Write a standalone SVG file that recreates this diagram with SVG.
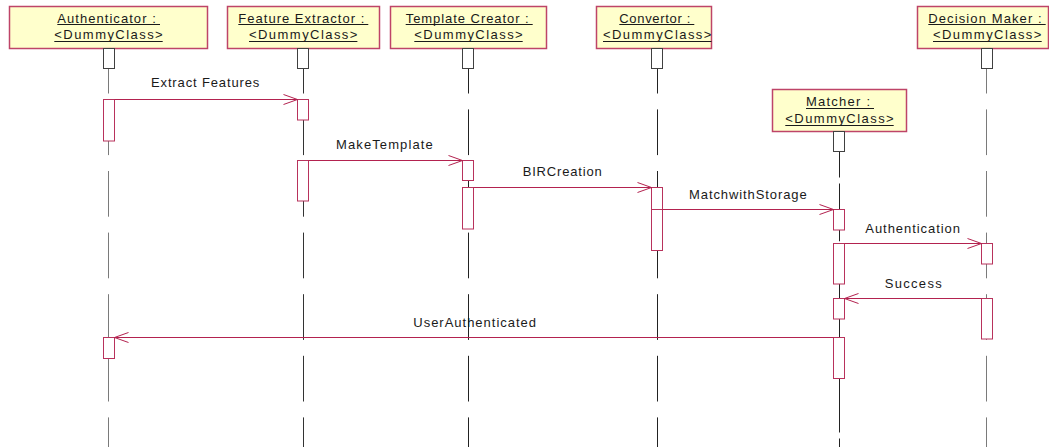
<svg xmlns="http://www.w3.org/2000/svg" width="1049" height="447" viewBox="0 0 1049 447">
<style>
  text { font-family: "Liberation Sans", Arial, sans-serif; font-size: 13px; fill: #1a1a1a; }
  .hdr { fill: #FFFFCC; stroke: #BE4468; stroke-width: 1.5; }
  .ul { stroke: #1a1a1a; stroke-width: 1; }
  .head { fill: #ffffff; stroke: #404040; stroke-width: 1; }
  .life { stroke-width: 1; fill: none; stroke-dasharray: 45.7 15.9; stroke-dashoffset: 20.7; }
  .act { fill: #ffffff; stroke: #B8325C; stroke-width: 1; }
  .msg { fill: none; stroke: #B3224F; stroke-width: 1; marker-end: url(#open); }
</style>
<defs>
  <marker id="open" markerUnits="userSpaceOnUse" markerWidth="16" markerHeight="12" refX="14" refY="5" orient="auto" overflow="visible">
    <path d="M0,0 L14,5 L0,10" fill="none" stroke="#B3224F" stroke-width="1"/>
  </marker>
</defs>
<rect width="1049" height="447" fill="#ffffff"/>

<g id="authenticator">
  <rect class="hdr" x="9.5" y="6.5" width="198" height="42"/>
  <text x="57.3" y="22.5" textLength="98.5" lengthAdjust="spacing">Authenticator :</text>
  <text x="54.3" y="39.3" textLength="108.4" lengthAdjust="spacing">&lt;DummyClass&gt;</text>
  <line class="ul" x1="57.3" y1="24.5" x2="160" y2="24.5"/>
  <line class="ul" x1="54.3" y1="41.5" x2="162.7" y2="41.5"/>
  <line class="life" x1="108.5" y1="68.5" x2="108.5" y2="447" stroke="#7a7a7a"/>
  <rect class="head" x="103.5" y="48.5" width="11" height="20"/>
  <rect class="act" x="103.5" y="99.5" width="11" height="41.5"/>
  <rect class="act" x="103.5" y="337.5" width="11" height="21"/>
</g>

<g id="feature-extractor">
  <rect class="hdr" x="227.5" y="6.5" width="152" height="42"/>
  <text x="238.3" y="22.5" textLength="126" lengthAdjust="spacing">Feature Extractor :</text>
  <text x="249" y="39.3" textLength="108.4" lengthAdjust="spacing">&lt;DummyClass&gt;</text>
  <line class="ul" x1="238.3" y1="24.5" x2="368.3" y2="24.5"/>
  <line class="ul" x1="249" y1="41.5" x2="357.4" y2="41.5"/>
  <line class="life" x1="303.5" y1="68.5" x2="303.5" y2="447" stroke="#333333"/>
  <rect class="head" x="297.5" y="48.5" width="11" height="20"/>
  <rect class="act" x="297.5" y="99.5" width="11" height="20.5"/>
  <rect class="act" x="297.5" y="160.5" width="11" height="40.5"/>
</g>

<g id="template-creator">
  <rect class="hdr" x="390.5" y="6.5" width="156" height="42"/>
  <text x="405.7" y="22.5" textLength="123" lengthAdjust="spacing">Template Creator :</text>
  <text x="414.3" y="39.3" textLength="108.4" lengthAdjust="spacing">&lt;DummyClass&gt;</text>
  <line class="ul" x1="405.7" y1="24.5" x2="532.7" y2="24.5"/>
  <line class="ul" x1="414.3" y1="41.5" x2="522.7" y2="41.5"/>
  <line class="life" x1="468.5" y1="68.5" x2="468.5" y2="447" stroke="#222222"/>
  <rect class="head" x="462.5" y="48.5" width="11" height="20"/>
  <rect class="act" x="462.5" y="160.5" width="11" height="20"/>
  <rect class="act" x="462.5" y="187.5" width="11" height="41.5"/>
</g>

<g id="convertor">
  <rect class="hdr" x="596.5" y="6.5" width="115" height="42"/>
  <text x="619.3" y="22.5" textLength="71" lengthAdjust="spacing">Convertor :</text>
  <text x="603" y="39.3" textLength="108.4" lengthAdjust="spacing">&lt;DummyClass&gt;</text>
  <line class="ul" x1="619.3" y1="24.5" x2="694.3" y2="24.5"/>
  <line class="ul" x1="603" y1="41.5" x2="711.5" y2="41.5"/>
  <line class="life" x1="657.5" y1="68.5" x2="657.5" y2="447" stroke="#222222"/>
  <rect class="head" x="651.5" y="48.5" width="11" height="20"/>
  <rect class="act" x="651.5" y="187.5" width="11" height="22"/>
  <rect class="act" x="651.5" y="209.5" width="11" height="41"/>
</g>

<g id="matcher">
  <rect class="hdr" x="772.5" y="89.5" width="134" height="42"/>
  <text x="806" y="106.2" textLength="64" lengthAdjust="spacing">Matcher :</text>
  <text x="785.3" y="122.8" textLength="108.4" lengthAdjust="spacing">&lt;DummyClass&gt;</text>
  <line class="ul" x1="806" y1="108.5" x2="874" y2="108.5"/>
  <line class="ul" x1="785.3" y1="125.5" x2="893.7" y2="125.5"/>
  <line x1="839.5" y1="151.5" x2="839.5" y2="447" stroke="#222222" stroke-width="1" stroke-dasharray="57.75 6" stroke-dashoffset="31.75"/>
  <rect class="head" x="833.5" y="131.5" width="11" height="20"/>
  <rect class="act" x="833.5" y="209.5" width="11" height="20.5"/>
  <rect class="act" x="833.5" y="243.5" width="11" height="40.5"/>
  <rect class="act" x="833.5" y="298.5" width="11" height="20.5"/>
  <rect class="act" x="833.5" y="337.5" width="11" height="41"/>
</g>

<g id="decision-maker">
  <rect class="hdr" x="917.5" y="6.5" width="131" height="42"/>
  <text x="928.3" y="22.5" textLength="113.4" lengthAdjust="spacing">Decision Maker :</text>
  <text x="933" y="39.3" textLength="108.4" lengthAdjust="spacing">&lt;DummyClass&gt;</text>
  <line class="ul" x1="928.3" y1="24.5" x2="1045.7" y2="24.5"/>
  <line class="ul" x1="933" y1="41.5" x2="1041.7" y2="41.5"/>
  <line class="life" x1="986.5" y1="68.5" x2="986.5" y2="447" stroke="#7a7a7a"/>
  <rect class="head" x="981.5" y="48.5" width="11" height="20"/>
  <rect class="act" x="981.5" y="243.5" width="11" height="20.5"/>
  <rect class="act" x="981.5" y="298.5" width="11" height="40.5"/>
</g>

<g id="connectors">
  <path class="msg" d="M114.5,99.5 H297.5"/>
  <text x="151" y="87.3" textLength="108.3" lengthAdjust="spacing">Extract Features</text>
  <path class="msg" d="M308.5,160.5 H462.5"/>
  <text x="336" y="149" textLength="96.7" lengthAdjust="spacing">MakeTemplate</text>
  <path class="msg" d="M473.5,187.5 H651.5"/>
  <text x="522.7" y="175.7" textLength="79" lengthAdjust="spacing">BIRCreation</text>
  <path class="msg" d="M662.5,209.5 H833.5"/>
  <text x="689" y="199" textLength="117.7" lengthAdjust="spacing">MatchwithStorage</text>
  <path class="msg" d="M844.5,243.5 H981.5"/>
  <text x="865.3" y="232.7" textLength="94.7" lengthAdjust="spacing">Authentication</text>
  <path class="msg" d="M981.5,298.5 H844.5"/>
  <text x="884.7" y="287.7" textLength="57" lengthAdjust="spacing">Success</text>
  <path class="msg" d="M833.5,337.5 H114.5"/>
  <text x="413.3" y="326.7" textLength="122.7" lengthAdjust="spacing">UserAuthenticated</text>
</g>
</svg>
